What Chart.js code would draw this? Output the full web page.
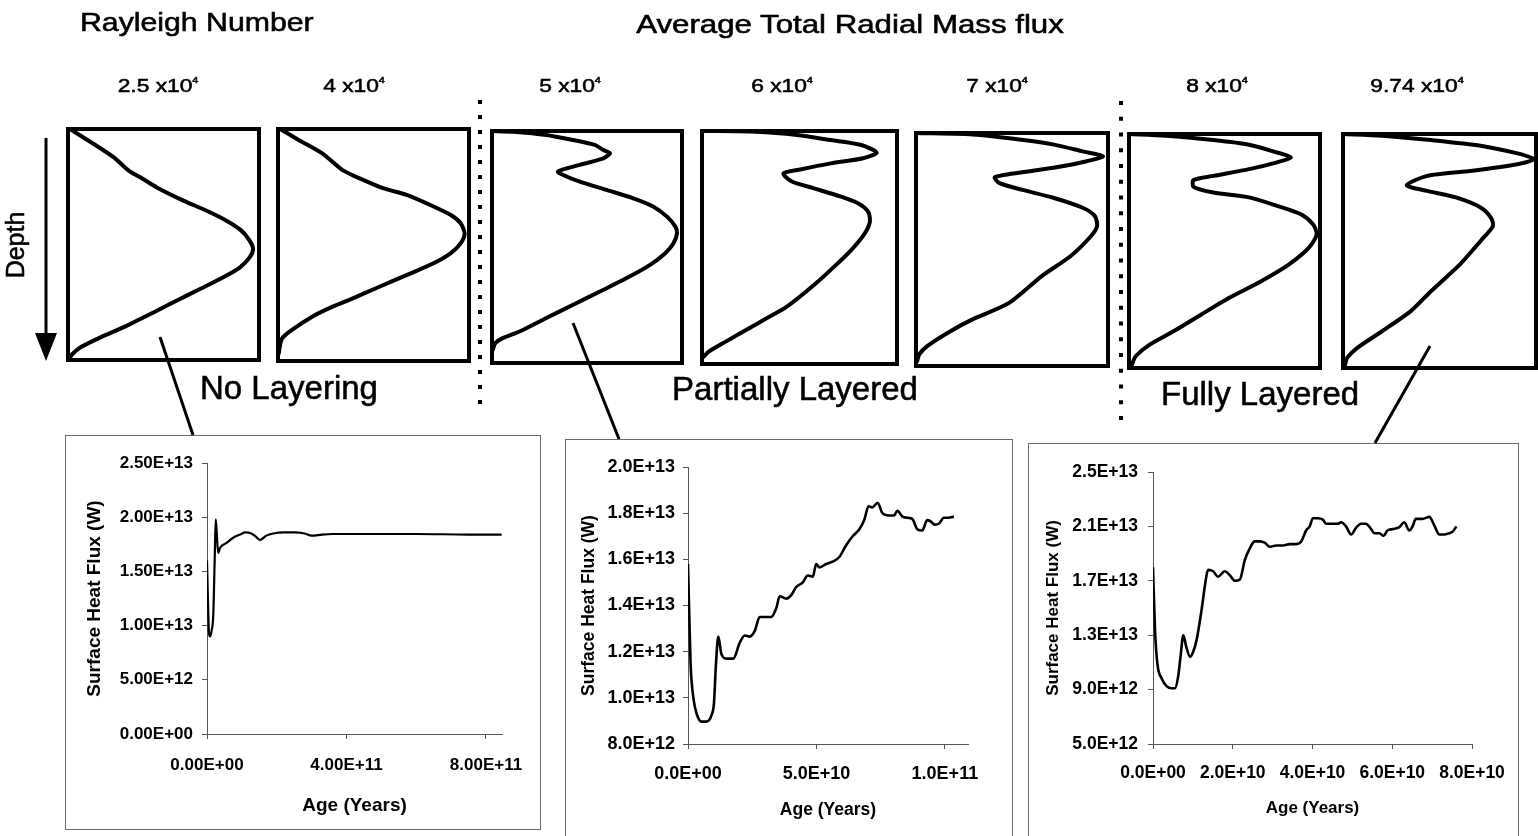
<!DOCTYPE html>
<html>
<head>
<meta charset="utf-8">
<title>Radial mass flux profiles and surface heat flux</title>
<script src="https://cdn.jsdelivr.net/npm/chart.js@4.4.1/dist/chart.umd.min.js"></script>
<style>
  html, body { margin: 0; padding: 0; background: #fff; }
  #fig { position: relative; width: 1538px; height: 836px; overflow: hidden; background: #fff; }
  #fig canvas { position: absolute; }
  .frame { position: absolute; border: 1px solid #6a6a6a; box-sizing: border-box; }
  #overlay { position: absolute; left: 0; top: 0; pointer-events: none; }
</style>
</head>
<body>
<div id="fig">
  <div class="frame" style="left:65px;top:435px;width:476px;height:395px;"></div>
  <div class="frame" style="left:565px;top:439px;width:448px;height:410px;"></div>
  <div class="frame" style="left:1028px;top:443px;width:491px;height:410px;"></div>

  <canvas id="prof1"></canvas>
  <canvas id="prof2"></canvas>
  <canvas id="prof3"></canvas>
  <canvas id="prof4"></canvas>
  <canvas id="prof5"></canvas>
  <canvas id="prof6"></canvas>
  <canvas id="prof7"></canvas>

  <canvas id="heat1"></canvas>
  <canvas id="heat2"></canvas>
  <canvas id="heat3"></canvas>

  <svg id="overlay" width="1538" height="836" xmlns="http://www.w3.org/2000/svg"
       font-family="'Liberation Sans', Arial, sans-serif" fill="#000">
    <g stroke="#000" stroke-width="0.55">
      <!-- headings -->
      <text transform="translate(80,31) scale(1.21,1)" font-size="25">Rayleigh Number</text>
      <text transform="translate(850,33) scale(1.25,1)" font-size="25" text-anchor="middle">Average Total Radial Mass flux</text>

      <!-- Rayleigh number of each profile -->
      <g font-size="19" text-anchor="middle">
        <text transform="translate(158,92) scale(1.2,1)">2.5 x10<tspan dy="-9" font-size="9">4</tspan></text>
        <text transform="translate(354,92) scale(1.2,1)">4 x10<tspan dy="-9" font-size="9">4</tspan></text>
        <text transform="translate(570,92) scale(1.2,1)">5 x10<tspan dy="-9" font-size="9">4</tspan></text>
        <text transform="translate(782,92) scale(1.2,1)">6 x10<tspan dy="-9" font-size="9">4</tspan></text>
        <text transform="translate(997,92) scale(1.2,1)">7 x10<tspan dy="-9" font-size="9">4</tspan></text>
        <text transform="translate(1217,92) scale(1.2,1)">8 x10<tspan dy="-9" font-size="9">4</tspan></text>
        <text transform="translate(1417,92) scale(1.2,1)">9.74 x10<tspan dy="-9" font-size="9">4</tspan></text>
      </g>

      <text transform="translate(24,245) rotate(-90)" font-size="25" text-anchor="middle">Depth</text>

      <!-- regime names -->
      <g font-size="33">
        <text x="200" y="399">No Layering</text>
        <text x="795" y="400" text-anchor="middle">Partially Layered</text>
        <text x="1161" y="405">Fully Layered</text>
      </g>
    </g>

    <!-- depth arrow -->
    <line x1="46" y1="138" x2="46" y2="338" stroke="#000" stroke-width="3"/>
    <polygon points="35,333 57,333 46,361" fill="#000"/>

    <!-- regime separators -->
    <g id="dotsA"></g>
    <g id="dotsB"></g>

    <!-- leaders from a profile to its time series -->
    <g stroke="#000" stroke-width="3">
      <line x1="160" y1="337" x2="193" y2="435"/>
      <line x1="573" y1="323" x2="619" y2="439"/>
      <line x1="1430" y1="346" x2="1375" y2="443"/>
    </g>
  </svg>
</div>

<script>
// ---------------------------------------------------------------
// Average total radial mass flux profiles (relative flux, depth 0 = top, 1 = bottom)
// ---------------------------------------------------------------
const rayleighLabels = ['2.5 x10^4', '4 x10^4', '5 x10^4', '6 x10^4', '7 x10^4', '8 x10^4', '9.74 x10^4'];

const profileRa25 = [[0.01,0],[0.135,0.065],[0.24,0.123],[0.318,0.18],[0.378,0.209],[0.465,0.253],[0.604,0.31],[0.726,0.354],[0.83,0.397],[0.908,0.44],[0.951,0.483],[0.969,0.519],[0.951,0.556],[0.899,0.6],[0.813,0.642],[0.691,0.693],[0.552,0.75],[0.448,0.794],[0.309,0.851],[0.17,0.902],[0.066,0.945],[0.023,0.974],[0.005,0.996]];
const profileRa40 = [[0.01,0],[0.106,0.046],[0.23,0.104],[0.336,0.176],[0.425,0.212],[0.549,0.255],[0.673,0.284],[0.796,0.327],[0.903,0.37],[0.956,0.406],[0.977,0.45],[0.956,0.493],[0.903,0.536],[0.814,0.579],[0.673,0.63],[0.531,0.68],[0.389,0.731],[0.283,0.767],[0.177,0.81],[0.071,0.867],[0.021,0.903],[0.009,0.939],[0.004,0.968]];
const profileRa50 = [[0,0],[0.111,0.003],[0.286,0.017],[0.427,0.039],[0.541,0.06],[0.586,0.082],[0.621,0.096],[0.586,0.118],[0.462,0.146],[0.347,0.175],[0.392,0.196],[0.462,0.218],[0.603,0.254],[0.744,0.29],[0.85,0.326],[0.921,0.369],[0.965,0.412],[0.974,0.44],[0.956,0.483],[0.912,0.527],[0.832,0.577],[0.709,0.634],[0.568,0.692],[0.427,0.749],[0.286,0.806],[0.145,0.864],[0.056,0.893],[0.018,0.914],[0.004,0.943]];
const profileRa60 = [[0,0],[0.278,0.003],[0.487,0.017],[0.661,0.039],[0.817,0.06],[0.896,0.093],[0.826,0.117],[0.661,0.139],[0.504,0.165],[0.417,0.182],[0.461,0.217],[0.574,0.246],[0.713,0.282],[0.8,0.31],[0.852,0.346],[0.861,0.389],[0.835,0.439],[0.765,0.511],[0.678,0.582],[0.574,0.661],[0.435,0.754],[0.331,0.804],[0.226,0.854],[0.122,0.904],[0.035,0.947],[0.009,0.968]];
const profileRa70 = [[0,0],[0.315,0.007],[0.549,0.029],[0.719,0.05],[0.868,0.079],[0.974,0.1],[0.889,0.121],[0.762,0.143],[0.591,0.164],[0.411,0.189],[0.432,0.214],[0.549,0.243],[0.719,0.279],[0.868,0.321],[0.932,0.357],[0.943,0.4],[0.911,0.443],[0.804,0.529],[0.655,0.614],[0.485,0.729],[0.294,0.8],[0.166,0.857],[0.06,0.914],[0.017,0.95],[0.006,0.979]];
const profileRa80 = [[0,0],[0.192,0.007],[0.442,0.026],[0.629,0.046],[0.775,0.079],[0.848,0.1],[0.775,0.121],[0.629,0.15],[0.442,0.179],[0.338,0.197],[0.338,0.226],[0.442,0.25],[0.629,0.271],[0.775,0.307],[0.9,0.343],[0.963,0.386],[0.983,0.429],[0.942,0.486],[0.838,0.557],[0.692,0.629],[0.525,0.7],[0.379,0.771],[0.233,0.843],[0.108,0.9],[0.035,0.95],[0.015,0.986]];
const profileRa974 = [[0,0],[0.202,0.007],[0.457,0.026],[0.713,0.05],[0.904,0.083],[0.989,0.107],[0.904,0.129],[0.67,0.157],[0.436,0.179],[0.33,0.219],[0.436,0.243],[0.585,0.271],[0.713,0.314],[0.766,0.357],[0.777,0.393],[0.713,0.457],[0.606,0.557],[0.457,0.671],[0.351,0.757],[0.202,0.843],[0.074,0.914],[0.021,0.957],[0.011,0.986]];

// ---------------------------------------------------------------
// Surface heat flux (W) against age (years)
// ---------------------------------------------------------------
const ageNoLayer  = [0, 0.3e10, 0.6e10, 0.9e10, 1.3e10, 1.8e10, 2.2e10, 2.5e10, 2.8e10, 3.2e10, 3.8e10, 5.5e10, 7.5e10, 9.5e10, 1.1e11, 1.27e11, 1.4e11, 1.52e11, 1.7e11, 1.9e11, 2.2e11, 2.5e11, 2.8e11, 3.0e11, 3.3e11, 3.6e11, 4.5e11, 6.0e11, 7.5e11, 8.45e11];
const fluxNoLayer = [1.6e13, 1.2e13, 0.92e13, 0.9e13, 0.95e13, 1.1e13, 1.6e13, 1.98e13, 1.85e13, 1.67e13, 1.72e13, 1.76e13, 1.81e13, 1.84e13, 1.86e13, 1.85e13, 1.82e13, 1.79e13, 1.83e13, 1.85e13, 1.86e13, 1.86e13, 1.85e13, 1.83e13, 1.84e13, 1.845e13, 1.845e13, 1.845e13, 1.84e13, 1.84e13];

const agePartial  = [0, 1.0e9, 2.1e9, 3.4e9, 5.3e9, 7.2e9, 9.2e9, 10.1e9, 10.9e9, 11.8e9, 13.0e9, 15.0e9, 17.6e9, 20.2e9, 22.1e9, 24.0e9, 26.0e9, 27.9e9, 29.8e9, 32.4e9, 34.4e9, 35.7e9, 38.2e9, 40.2e9, 42.1e9, 44.7e9, 46.6e9, 48.6e9, 49.9e9, 51.2e9, 53.8e9, 56.3e9, 58.9e9, 61.5e9, 64.1e9, 66.7e9, 68.6e9, 70.3e9, 71.8e9, 73.8e9, 75.7e9, 78.3e9, 80.2e9, 81.5e9, 83.5e9, 85.4e9, 87.3e9, 89.3e9, 91.2e9, 93.1e9, 94.4e9, 96.1e9, 97.7e9, 99.6e9, 101.5e9, 103.5e9];
const fluxPartial = [1.58e13, 1.15e13, 1.0e13, 9.3e12, 8.97e12, 8.97e12, 9.26e12, 9.76e12, 1.15e13, 1.265e13, 1.19e13, 1.17e13, 1.17e13, 1.24e13, 1.27e13, 1.265e13, 1.29e13, 1.35e13, 1.35e13, 1.35e13, 1.39e13, 1.44e13, 1.43e13, 1.445e13, 1.48e13, 1.50e13, 1.53e13, 1.525e13, 1.58e13, 1.565e13, 1.58e13, 1.59e13, 1.61e13, 1.66e13, 1.70e13, 1.73e13, 1.77e13, 1.83e13, 1.825e13, 1.845e13, 1.80e13, 1.79e13, 1.79e13, 1.81e13, 1.785e13, 1.78e13, 1.775e13, 1.73e13, 1.725e13, 1.77e13, 1.765e13, 1.75e13, 1.755e13, 1.78e13, 1.78e13, 1.785e13];

const ageFull  = [0, 0.5e9, 1.1e9, 2.2e9, 3.4e9, 4.7e9, 5.5e9, 6.3e9, 6.9e9, 7.6e9, 8.3e9, 9.3e9, 10.1e9, 10.9e9, 12.2e9, 13.0e9, 13.8e9, 15.1e9, 16.3e9, 18.0e9, 19.3e9, 20.5e9, 21.8e9, 23.0e9, 24.3e9, 25.5e9, 26.8e9, 28.0e9, 29.3e9, 30.9e9, 32.6e9, 34.3e9, 35.9e9, 37.2e9, 38.4e9, 39.3e9, 40.1e9, 41.3e9, 42.6e9, 43.4e9, 45.1e9, 46.3e9, 47.2e9, 48.4e9, 49.7e9, 50.9e9, 52.2e9, 53.4e9, 54.7e9, 55.5e9, 56.8e9, 57.8e9, 58.8e9, 60.1e9, 61.8e9, 63.0e9, 64.3e9, 65.1e9, 65.9e9, 67.6e9, 69.3e9, 70.5e9, 71.8e9, 73.0e9, 74.3e9, 75.1e9, 76.1e9];
const fluxFull = [1.80e13, 1.34e13, 1.09e13, 9.8e12, 9.26e12, 9.1e12, 9.1e12, 9.95e12, 1.14e13, 1.30e13, 1.22e13, 1.14e13, 1.18e13, 1.26e13, 1.49e13, 1.66e13, 1.78e13, 1.77e13, 1.73e13, 1.77e13, 1.74e13, 1.70e13, 1.71e13, 1.85e13, 1.94e13, 1.99e13, 1.99e13, 1.98e13, 1.95e13, 1.96e13, 1.96e13, 1.97e13, 1.97e13, 1.99e13, 2.07e13, 2.10e13, 2.16e13, 2.16e13, 2.15e13, 2.12e13, 2.12e13, 2.12e13, 2.13e13, 2.10e13, 2.04e13, 2.09e13, 2.12e13, 2.12e13, 2.08e13, 2.05e13, 2.05e13, 2.03e13, 2.07e13, 2.08e13, 2.095e13, 2.13e13, 2.07e13, 2.10e13, 2.155e13, 2.155e13, 2.17e13, 2.11e13, 2.04e13, 2.04e13, 2.05e13, 2.06e13, 2.10e13];

// tick values of each axis
const ticksAgeNoLayer   = [0, 4e11, 8e11];
const ticksFluxNoLayer  = [0, 5e12, 1e13, 1.5e13, 2e13, 2.5e13];
const ticksAgePartial   = [0, 5e10, 1e11];
const ticksFluxPartial  = [8e12, 1e13, 1.2e13, 1.4e13, 1.6e13, 1.8e13, 2e13];
const ticksAgeFull      = [0, 2e10, 4e10, 6e10, 8e10];
const ticksFluxFull     = [5e12, 9e12, 1.3e13, 1.7e13, 2.1e13, 2.5e13];

// ---------------------------------------------------------------
const FONT = "'Liberation Sans', Arial, Helvetica, sans-serif";

// Excel-style scientific label, e.g. 2.50E+13, 0.0E+00
function sci(v, digits) {
  const parts = Number(v).toExponential(digits).split('e');
  const e = parseInt(parts[1], 10);
  return parts[0] + 'E' + (e < 0 ? '-' : '+') + String(Math.abs(e)).padStart(2, '0');
}

// thick frame around a profile panel
const frameBox = {
  id: 'frameBox',
  afterDatasetsDraw(chart) {
    const a = chart.chartArea, ctx = chart.ctx;
    ctx.save();
    ctx.strokeStyle = '#000';
    ctx.lineWidth = 4;
    ctx.strokeRect(a.left, a.top, a.right - a.left, a.bottom - a.top);
    ctx.restore();
  }
};

function profileChart(id, rect, points) {
  const [x0, y0, x1, y1] = rect;
  const pad = 3;
  const cv = document.getElementById(id);
  cv.width = x1 - x0 + 2 * pad;
  cv.height = y1 - y0 + 2 * pad;
  cv.style.left = (x0 - pad) + 'px';
  cv.style.top = (y0 - pad) + 'px';
  return new Chart(cv, {
    type: 'scatter',
    data: {
      datasets: [{
        data: points.map(p => ({ x: p[0], y: p[1] })),
        showLine: true,
        borderColor: '#000',
        borderWidth: 4,
        borderJoinStyle: 'round',
        borderCapStyle: 'round',
        pointRadius: 0,
        tension: 0.25,
        clip: 4
      }]
    },
    options: {
      responsive: false,
      animation: false,
      events: [],
      layout: { padding: pad },
      plugins: { legend: { display: false }, tooltip: { enabled: false } },
      scales: {
        x: { type: 'linear', min: 0, max: 1, display: false },
        y: { type: 'linear', min: 0, max: 1, reverse: true, display: false }
      }
    },
    plugins: [frameBox]
  });
}

function heatChart(c) {
  const [bx, by, bw, bh] = c.box;
  const [pl, pt, pr, pb] = c.plot;
  const cv = document.getElementById(c.id);
  cv.width = bw; cv.height = bh;
  cv.style.left = bx + 'px'; cv.style.top = by + 'px';
  const axisGrid = { drawOnChartArea: false, drawTicks: true, tickLength: 5, color: '#555', lineWidth: 1 };
  const axisBorder = { display: true, color: '#555', width: 1 };
  return new Chart(cv, {
    type: 'line',
    data: {
      datasets: [{
        data: c.x.map((v, i) => ({ x: v, y: c.y[i] })),
        borderColor: '#000',
        borderWidth: c.lw,
        pointRadius: 0,
        cubicInterpolationMode: 'monotone',
        fill: false
      }]
    },
    options: {
      responsive: false,
      animation: false,
      events: [],
      parsing: false,
      layout: { padding: { left: 0, top: pt - by, right: bx + bw - pr, bottom: 0 } },
      plugins: { legend: { display: false }, tooltip: { enabled: false } },
      scales: {
        x: {
          type: 'linear', min: 0, max: c.xMax,
          afterFit: s => { s.height = by + bh - pb; },
          afterBuildTicks: s => { s.ticks = c.xTicks.map(v => ({ value: v })); },
          ticks: { callback: v => sci(v, c.dx), font: { family: FONT, weight: 'bold', size: c.xTickSize }, color: '#000', padding: c.xTickPad, maxRotation: 0, autoSkip: false },
          grid: axisGrid,
          border: axisBorder,
          title: { display: true, text: 'Age (Years)', color: '#000', font: { family: FONT, weight: 'bold', size: c.titleSize }, padding: { top: 0, bottom: c.xTitlePad } }
        },
        y: {
          type: 'linear', min: c.yMin, max: c.yMax,
          afterFit: s => { s.width = pl - bx; },
          afterBuildTicks: s => { s.ticks = c.yTicks.map(v => ({ value: v })); },
          ticks: { callback: v => sci(v, c.dy), font: { family: FONT, weight: 'bold', size: c.yTickSize }, color: '#000', padding: c.yTickPad, autoSkip: false },
          grid: axisGrid,
          border: axisBorder,
          title: { display: true, text: 'Surface Heat Flux (W)', color: '#000', font: { family: FONT, weight: 'bold', size: c.titleSize }, padding: { top: c.yTitlePad, bottom: 0 } }
        }
      }
    }
  });
}

// profile panels, left to right with increasing Rayleigh number
profileChart('prof1', [68, 129, 259, 360], profileRa25);
profileChart('prof2', [278, 129, 469, 361], profileRa40);
profileChart('prof3', [492, 131, 682, 363], profileRa50);
profileChart('prof4', [702, 131, 897, 364], profileRa60);
profileChart('prof5', [916, 133, 1108, 366], profileRa70);
profileChart('prof6', [1129, 134, 1320, 368], profileRa80);
profileChart('prof7', [1343, 134, 1536, 368], profileRa974);

// surface heat flux histories
heatChart({
  id: 'heat1', box: [65, 435, 476, 394], plot: [207, 463, 502, 734],
  x: ageNoLayer, y: fluxNoLayer, xMax: 8.46e11, yMin: 0, yMax: 2.5e13,
  xTicks: ticksAgeNoLayer, yTicks: ticksFluxNoLayer, dx: 2, dy: 2, lw: 2.2,
  xTickSize: 17, yTickSize: 17, titleSize: 19,
  xTickPad: 16, yTickPad: 9, xTitlePad: 12, yTitlePad: 18
});
heatChart({
  id: 'heat2', box: [565, 439, 448, 397], plot: [688, 467, 968, 744],
  x: agePartial, y: fluxPartial, xMax: 1.09e11, yMin: 8e12, yMax: 2e13,
  xTicks: ticksAgePartial, yTicks: ticksFluxPartial, dx: 1, dy: 1, lw: 2.6,
  xTickSize: 18, yTickSize: 18, titleSize: 17.5,
  xTickPad: 14, yTickPad: 8, xTitlePad: 15, yTitlePad: 14
});
heatChart({
  id: 'heat3', box: [1028, 443, 491, 393], plot: [1153, 472, 1472, 744],
  x: ageFull, y: fluxFull, xMax: 8e10, yMin: 5e12, yMax: 2.5e13,
  xTicks: ticksAgeFull, yTicks: ticksFluxFull, dx: 1, dy: 1, lw: 2.6,
  xTickSize: 17.5, yTickSize: 17.5, titleSize: 17,
  xTickPad: 14, yTickPad: 10, xTitlePad: 17, yTitlePad: 15
});

// dotted separators between regimes
function dots(groupId, x, yStart, yEnd, step) {
  const g = document.getElementById(groupId);
  const ns = 'http://www.w3.org/2000/svg';
  for (let y = yStart; y <= yEnd + 0.5; y += step) {
    const r = document.createElementNS(ns, 'rect');
    r.setAttribute('x', x - 2); r.setAttribute('y', y - 2);
    r.setAttribute('width', 4); r.setAttribute('height', 4);
    g.appendChild(r);
  }
}
dots('dotsA', 480, 102, 402, 15);
dots('dotsB', 1121, 103, 418, 15.75);
</script>
</body>
</html>
